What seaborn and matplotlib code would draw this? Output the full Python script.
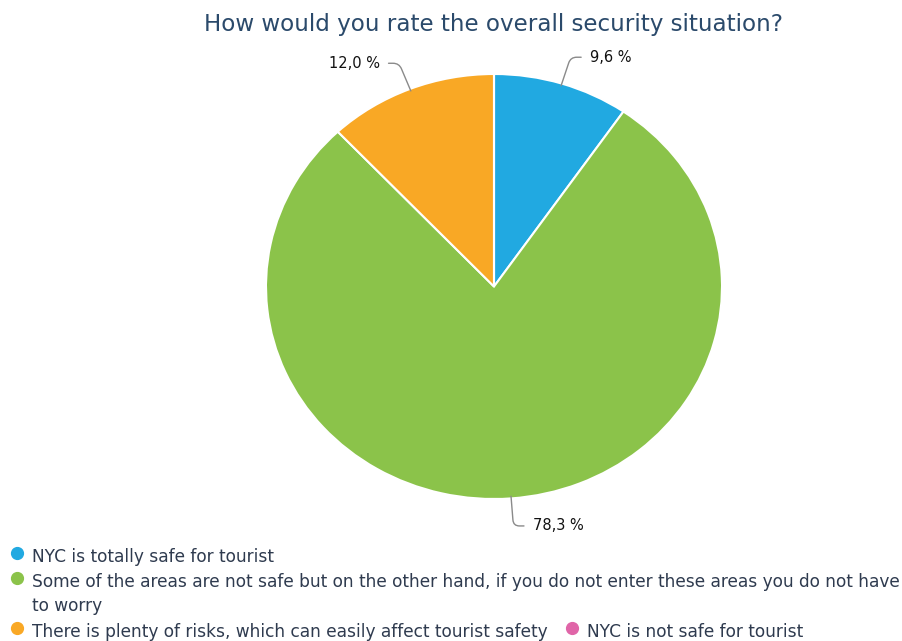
#!/usr/bin/env python3
"""Pie chart: overall security situation rating."""

import numpy as np
import matplotlib
matplotlib.use("Agg")
import matplotlib.pyplot as plt
import seaborn as sns
from matplotlib.lines import Line2D

answers = [
    "NYC is totally safe for tourist",
    "Some of the areas are not safe but on the other hand, if you do not enter these areas you do not have\nto worry",
    "There is plenty of risks, which can easily affect tourist safety",
    "NYC is not safe for tourist",
]
shares = [9.6, 78.3, 12.0, 0.0]
colors = ["#21a9e1", "#8bc34a", "#f9a825", "#e065a8"]
title = "How would you rate the overall security situation?"


def main() -> int:
    sns.set_theme(style="white")
    plt.rcParams["font.family"] = ["DejaVu Sans"]

    W, H = 903, 641
    fig = plt.figure(figsize=(W / 100, H / 100), dpi=100)
    # the original is slightly stretched sideways, so the pie is an ellipse
    cx, cy, rx, ry = 494, 286.5, 228, 212.5
    ax = fig.add_axes([(cx - rx) / W, (H - cy - ry) / H, 2 * rx / W, 2 * ry / H])

    wedges, _ = ax.pie(
        shares, colors=colors, startangle=90, counterclock=False, radius=1,
        wedgeprops=dict(edgecolor="white", linewidth=1.5),
    )
    ax.set_xlim(-1, 1)
    ax.set_ylim(-1, 1)
    ax.set_aspect("auto")
    ax.axis("off")

    for w, v in zip(wedges, shares):
        if v <= 0:
            continue
        mid = np.deg2rad((w.theta1 + w.theta2) / 2)
        ex, ey = 0.99 * np.cos(mid), 0.99 * np.sin(mid)
        lx, ly = 1.13 * np.cos(mid), 1.13 * np.sin(mid)
        side = 1 if np.cos(mid) >= 0 else -1
        tx = lx + 0.085 * side
        ang = np.rad2deg(np.arctan2(ry * np.sin(mid), rx * np.cos(mid)))
        ax.annotate(
            f"{v:.1f} %".replace(".", ","), xy=(ex, ey), xytext=(tx, ly),
            ha="left" if side > 0 else "right", va="center",
            fontsize=10.5, color="#111111",
            arrowprops=dict(arrowstyle="-", color="#8a8a8a", lw=1,
                            shrinkA=4, shrinkB=0,
                            connectionstyle=f"angle,angleA=0,angleB={ang:.1f},rad=6"),
            annotation_clip=False,
        )

    fig.text(cx / W, 1 - 24 / H, title, ha="center", va="center",
             fontsize=16.6, color="#2b4a6b")

    # legend, laid out by hand like the original
    items = [(17, 556, 0), (17, 581, 1), (17, 631, 2), (572, 631, 3)]
    for mx, my, i in items:
        fig.add_artist(Line2D([mx / W], [1 - (my - 3) / H], marker="o", markersize=8.5,
                              color=colors[i], transform=fig.transFigure))
        fig.text((mx + 15) / W, 1 - (my - 8) / H, answers[i], ha="left", va="top",
                 fontsize=12.25, color="#2f3b4f", linespacing=1.42)

    fig.savefig("out.png", dpi=100, facecolor="white")
    plt.close(fig)
    return 0


if __name__ == "__main__":
    raise SystemExit(main())
